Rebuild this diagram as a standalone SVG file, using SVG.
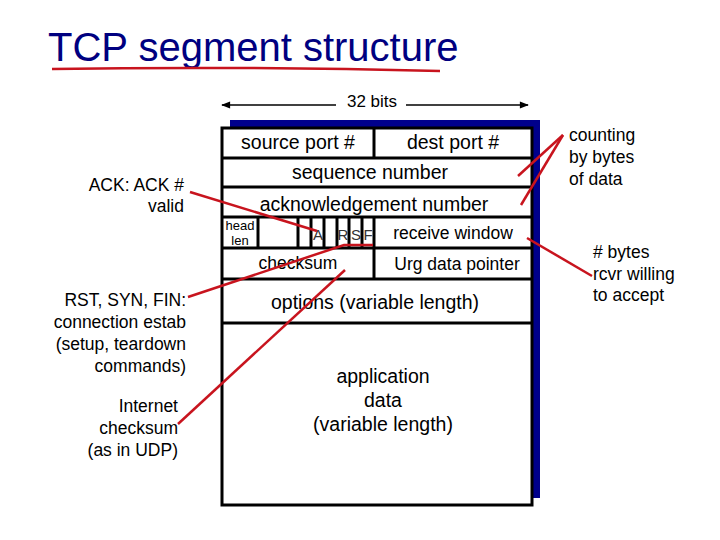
<svg xmlns="http://www.w3.org/2000/svg" width="720" height="540" viewBox="0 0 720 540">
<defs>
<style>
text{font-family:"Liberation Sans",Arial,sans-serif;fill:#000}
.f{font-size:19.5px}
.s{font-size:17.5px}
.cell{fill:#fff;stroke:#000;stroke-width:3}
.red{stroke:#c8141e;stroke-width:2.5;fill:none}
</style>
<marker id="ah" viewBox="0 0 10 10" refX="9" refY="5" markerWidth="8" markerHeight="6" orient="auto-start-reverse"><path d="M0,1L10,5L0,9z" fill="#000"/></marker>
</defs>
<rect width="720" height="540" fill="#fff"/>
<g id="title">
<text x="48" y="61" style="font-size:40px;fill:#000080">TCP segment structure</text>
<path class="red" d="M52,69 Q240,66 440,71" stroke-width="4"/>
</g>
<g id="bits">
<line x1="336" y1="105" x2="222" y2="105" stroke="#000" stroke-width="1.5" marker-end="url(#ah)"/>
<line x1="406" y1="105" x2="528" y2="105" stroke="#000" stroke-width="1.5" marker-end="url(#ah)"/>
<text x="372" y="107" text-anchor="middle" style="font-size:17px">32 bits</text>
</g>
<rect id="shadow" x="230" y="120" width="310" height="378" fill="#00008b"/>
<g id="segment">
<rect class="cell" x="222" y="128" width="310" height="377"/>
<line x1="222" y1="158" x2="532" y2="158" stroke="#000" stroke-width="3"/>
<line x1="222" y1="187" x2="532" y2="187" stroke="#000" stroke-width="3"/>
<line x1="222" y1="217" x2="532" y2="217" stroke="#000" stroke-width="3"/>
<line x1="222" y1="248" x2="532" y2="248" stroke="#000" stroke-width="3"/>
<line x1="222" y1="279" x2="532" y2="279" stroke="#000" stroke-width="3"/>
<line x1="222" y1="323" x2="532" y2="323" stroke="#000" stroke-width="3"/>
<line x1="374" y1="128" x2="374" y2="158" stroke="#000" stroke-width="3"/>
<line x1="374" y1="217" x2="374" y2="279" stroke="#000" stroke-width="3"/>
<g stroke="#000" stroke-width="3">
<line x1="258" y1="217" x2="258" y2="248"/>
<line x1="298" y1="217" x2="298" y2="248"/>
<line x1="311" y1="217" x2="311" y2="248"/>
<line x1="324" y1="217" x2="324" y2="248"/>
<line x1="337" y1="217" x2="337" y2="248"/>
<line x1="349" y1="217" x2="349" y2="248"/>
<line x1="362" y1="217" x2="362" y2="248"/>
</g>
<text class="f" x="298" y="149" text-anchor="middle">source port #</text>
<text class="f" x="453" y="149" text-anchor="middle">dest port #</text>
<text class="f" x="370" y="179" text-anchor="middle">sequence number</text>
<text class="f" x="374" y="211" text-anchor="middle">acknowledgement number</text>
<text x="240" y="230" text-anchor="middle" style="font-size:13px">head</text>
<text x="240" y="245" text-anchor="middle" style="font-size:13px">len</text>
<text x="318" y="240" text-anchor="middle" style="font-size:15px;fill:#333">A</text>
<text x="343" y="240" text-anchor="middle" style="font-size:15px;fill:#333">R</text>
<text x="356" y="240" text-anchor="middle" style="font-size:15px;fill:#333">S</text>
<text x="368" y="240" text-anchor="middle" style="font-size:15px;fill:#333">F</text>
<text class="s" x="453" y="239" text-anchor="middle">receive window</text>
<text class="s" x="298" y="269" text-anchor="middle">checksum</text>
<text class="s" x="457" y="270" text-anchor="middle">Urg data pointer</text>
<text class="f" x="375" y="309" text-anchor="middle">options (variable length)</text>
<text class="f" x="383" y="383" text-anchor="middle">application</text>
<text class="f" x="383" y="407" text-anchor="middle">data</text>
<text class="f" x="383" y="431" text-anchor="middle">(variable length)</text>
</g>
<g id="labels">
<text class="s" x="184" y="191" text-anchor="end">ACK: ACK #</text>
<text class="s" x="184" y="212" text-anchor="end">valid</text>
<text class="s" x="186" y="306" text-anchor="end">RST, SYN, FIN:</text>
<text class="s" x="186" y="328" text-anchor="end">connection estab</text>
<text class="s" x="186" y="350" text-anchor="end">(setup, teardown</text>
<text class="s" x="186" y="372" text-anchor="end">commands)</text>
<text class="s" x="178" y="412" text-anchor="end">Internet</text>
<text class="s" x="178" y="434" text-anchor="end">checksum</text>
<text class="s" x="178" y="456" text-anchor="end">(as in UDP)</text>
<text class="s" x="569" y="141" text-anchor="start">counting</text>
<text class="s" x="569" y="163" text-anchor="start">by bytes</text>
<text class="s" x="569" y="185" text-anchor="start">of data</text>
<text class="s" x="593" y="258" text-anchor="start"># bytes</text>
<text class="s" x="593" y="280" text-anchor="start">rcvr willing</text>
<text class="s" x="593" y="301" text-anchor="start">to accept</text>
</g>
<g id="connectors" class="red">
<line x1="190" y1="192" x2="317" y2="231"/>
<polyline points="188,297 344,245 373,245"/>
<line x1="178" y1="424" x2="345" y2="270"/>
<line x1="563" y1="135" x2="518" y2="176"/>
<line x1="563" y1="135" x2="521" y2="205"/>
<line x1="527" y1="238" x2="592" y2="276"/>
</g>
</svg>
